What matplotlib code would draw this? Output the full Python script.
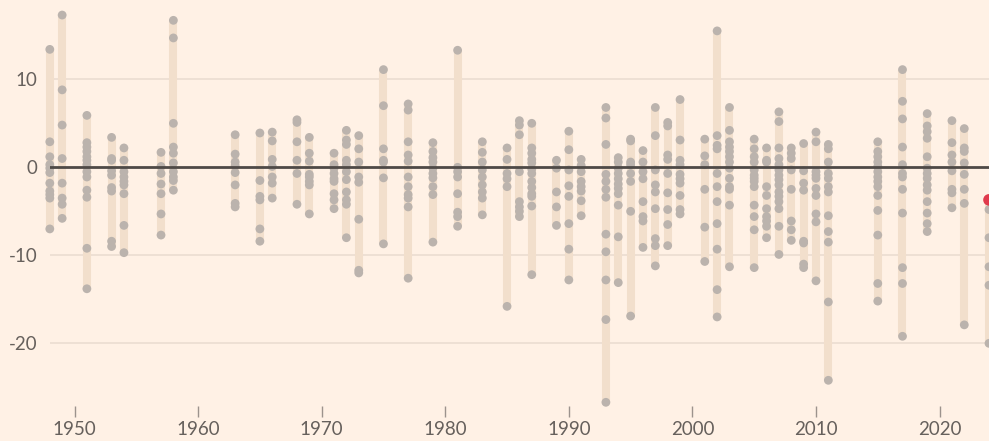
import matplotlib
matplotlib.use("Agg")
import matplotlib.pyplot as plt

# ---------------- data ----------------
years = [1948, 1949, 1951, 1953, 1954, 1957, 1958, 1963, 1965, 1966, 1968, 1969,
         1971, 1972, 1973, 1975, 1977, 1979, 1981, 1983, 1985, 1986, 1987, 1989,
         1990, 1991, 1993, 1994, 1995, 1996, 1997, 1998, 1999, 2001, 2002, 2003,
         2005, 2006, 2007, 2008, 2009, 2010, 2011, 2015, 2017, 2019, 2021, 2022, 2024]

v1948 = [13.4, 2.9, 1.2, 0.3, -0.1, -0.6, -1.8, -2.7, -3.1, -3.5, -7.0]
v1949 = [17.3, 8.8, 4.8, 1.0, -1.8, -3.5, -4.2, -5.8]
v1951 = [5.9, 2.8, 2.3, 1.8, 1.2, 0.8, 0.3, -0.5, -1.1, -2.6, -3.4, -9.2, -13.8]
v1953 = [3.4, 1.0, 0.8, -0.4, -0.9, -2.3, -2.7, -8.4, -9.0]
v1954 = [2.2, 0.8, -0.5, -1.1, -1.6, -2.0, -3.0, -6.6, -9.7]
v1957 = [1.7, 0.1, -0.7, -1.9, -3.0, -5.3, -7.7]
v1958 = [16.7, 14.7, 5.0, 2.3, 1.6, 0.5, -0.5, -1.1, -1.5, -2.6]
v1963 = [3.7, 1.5, 0.6, 0.2, -0.6, -2.0, -4.1, -4.5]
v1965 = [3.9, -1.5, -3.3, -3.7, -7.0, -8.4]
v1966 = [4.0, 3.0, 0.9, 0.1, -1.1, -1.8, -3.5]
v1968 = [5.4, 5.1, 2.9, 0.8, -0.7, -4.2]
v1969 = [3.4, 1.6, 0.7, -0.8, -1.1, -1.6, -2.0, -5.3]
v1971 = [1.6, 0.3, -0.1, -0.7, -1.3, -1.6, -3.0, -3.7, -4.7]
v1972 = [4.2, 3.1, 2.6, 0.8, 0.3, -0.5, -1.4, -2.8, -3.7, -4.2, -8.0]
v1973 = [3.6, 2.1, 0.6, -1.1, -1.7, -5.9, -11.7, -12.0]
v1975 = [11.1, 7.0, 2.1, 0.8, 0.6, -1.2, -8.7]
v1977 = [7.2, 6.5, 2.9, 1.4, 0.7, -1.1, -2.2, -3.1, -3.5, -4.5, -12.6]
v1979 = [2.8, 1.8, 1.1, 0.6, -0.1, -0.7, -1.2, -2.2, -3.1, -8.5]
v1981 = [13.3, 0.0, -0.5, -1.1, -3.0, -5.1, -5.6, -6.7]
v1983 = [2.9, 1.7, 0.6, -0.3, -1.1, -2.0, -2.8, -3.5, -5.4]
v1985 = [2.2, 0.9, -0.7, -1.3, -2.2, -15.8]
v1986 = [5.3, 4.8, 3.7, -0.5, -3.9, -4.5, -5.0, -5.6]
v1987 = [5.0, 2.2, 1.6, 0.9, 0.5, -0.2, -0.7, -1.6, -2.3, -3.0, -3.3, -4.4, -12.2]
v1989 = [0.8, -0.1, -2.8, -4.5, -6.6]
v1990 = [4.1, 2.0, -0.3, -2.1, -3.3, -6.4, -9.3, -12.8]
v1991 = [0.9, 0.2, -0.5, -1.6, -2.2, -2.7, -3.8, -5.5]
v1993 = [6.8, 5.6, 2.6, -0.8, -1.6, -2.5, -3.4, -7.6, -9.6, -12.8, -17.3, -26.7]
v1994 = [1.1, 0.6, -0.1, -0.7, -1.3, -1.9, -2.4, -3.0, -4.3, -7.9, -13.1]
v1995 = [3.2, 3.0, 0.6, 0.3, -0.7, -1.6, -5.0, -16.9]
v1996 = [1.9, 0.6, -0.5, -1.3, -3.9, -5.6, -6.1, -9.1]
v1997 = [6.8, 3.6, -0.3, -2.0, -2.8, -4.7, -8.1, -8.9, -11.2]
v1998 = [5.1, 4.7, 1.4, 0.9, -0.7, -2.9, -4.8, -6.5, -8.9]
v1999 = [7.7, 3.1, 0.8, 0.3, -0.8, -1.3, -1.8, -3.2, -4.8, -5.3]
v2001 = [3.2, 1.3, 0.3, -2.5, -6.8, -10.7]
v2002 = [15.5, 3.6, 2.5, 2.1, -0.7, -2.2, -3.9, -6.4, -9.3, -13.9, -17.0]
v2003 = [6.8, 4.2, 2.9, 2.3, 1.8, 1.2, 0.6, -0.1, -1.25, -2.2, -2.5, -4.3, -11.3]
v2005 = [3.2, 2.1, 1.2, 0.6, -0.3, -0.9, -1.25, -1.6, -2.2, -4.3, -5.6, -7.1, -11.4]
v2006 = [2.2, 0.8, 0.6, -2.2, -3.2, -4.7, -5.6, -6.1, -6.7, -8.0]
v2007 = [6.3, 5.2, 2.2, 1.0, 0.3, -0.3, -0.9, -1.4, -2.0, -2.8, -3.3, -3.9, -4.7, -6.7, -9.9]
v2008 = [2.2, 1.6, 1.0, -0.3, -2.5, -6.1, -7.1, -8.3]
v2009 = [2.7, -0.4, -1.8, -2.6, -8.4, -8.6, -11.0, -11.4]
v2010 = [4.0, 2.9, -0.5, -0.9, -1.25, -2.4, -3.2, -5.3, -6.2, -12.9]
v2011 = [2.6, 2.1, 0.6, -0.7, -1.25, -2.2, -2.8, -5.5, -7.3, -8.5, -15.3, -24.2]
v2015 = [2.9, 1.8, 1.2, 0.6, 0.1, -0.5, -1.1, -1.6, -2.2, -3.2, -4.9, -7.7, -13.2, -15.2]
v2017 = [11.1, 7.5, 5.5, 2.3, 0.3, -0.7, -1.1, -2.5, -5.2, -11.4, -13.2, -19.2]
v2019 = [6.1, 4.7, 4.05, 3.3, 1.2, -0.1, -0.7, -1.25, -2.0, -2.6, -3.9, -5.2, -6.4, -7.3]
v2021 = [5.3, 2.8, 1.4, 0.6, -0.4, -2.5, -2.9, -4.6]
v2022 = [4.4, 2.2, 1.8, 0.5, -0.8, -2.5, -4.1, -17.9]
v2024 = [-4.8, -8.0, -11.3, -13.4, -20.0]

values = [v1948, v1949, v1951, v1953, v1954, v1957, v1958, v1963, v1965, v1966,
          v1968, v1969, v1971, v1972, v1973, v1975, v1977, v1979, v1981, v1983,
          v1985, v1986, v1987, v1989, v1990, v1991, v1993, v1994, v1995, v1996,
          v1997, v1998, v1999, v2001, v2002, v2003, v2005, v2006, v2007, v2008,
          v2009, v2010, v2011, v2015, v2017, v2019, v2021, v2022, v2024]

highlight_year = 2024
highlight_value = -3.7

x_ticks = [1950, 1960, 1970, 1980, 1990, 2000, 2010, 2020]
y_ticks = [-20, -10, 0, 10]
y_tick_labels = ["-20", "-10", "0", "10"]

# ---------------- style ----------------
BG = "#FFF1E5"
BAR = "#F2DFCC"
DOT = "#BBB3AD"
RED = "#E03A4C"
GRID = "#EADCCF"
ZERO = "#4E4946"
TEXT = "#66605C"

plt.rcParams["font.family"] = ["Lato", "DejaVu Sans"]

W, H = 989, 441
fig = plt.figure(figsize=(W / 100, H / 100), dpi=100, facecolor=BG)
left_px, bottom_px = 49.8, 406.0
ax = fig.add_axes([left_px / W, (H - bottom_px) / H, (W - left_px) / W, bottom_px / H])
ax.set_facecolor(BG)

ax.set_xlim(1948, 2024)
ax.set_ylim(-27.12, 19.01)

for y in [10, -10, -20]:
    ax.axhline(y, color=GRID, lw=1.1, zorder=0)

for yr, vals in zip(years, values):
    all_vals = list(vals)
    if yr == highlight_year:
        all_vals.append(highlight_value)
    ax.vlines(yr, min(all_vals), max(all_vals), color=BAR, lw=5.8, zorder=1,
              clip_on=False)
    ax.scatter([yr] * len(vals), vals, s=40, color=DOT, edgecolors="none",
               zorder=2, clip_on=False)

ax.scatter([highlight_year], [highlight_value], s=70, color=RED,
           edgecolors="none", zorder=5, clip_on=False)

ax.axhline(0, color=ZERO, lw=2.0, zorder=4)

for s in ax.spines.values():
    s.set_visible(False)

ax.set_xticks(x_ticks)
ax.set_xticklabels([str(t) for t in x_ticks])
ax.set_yticks(y_ticks)
ax.set_yticklabels(y_tick_labels)
ax.tick_params(axis="x", length=8, width=1, color="#9C938D", labelsize=13.5,
               labelcolor=TEXT, pad=3)
ax.tick_params(axis="y", length=0, labelsize=13.5, labelcolor=TEXT, pad=9)

fig.savefig("out.png", dpi=100, facecolor=BG)
